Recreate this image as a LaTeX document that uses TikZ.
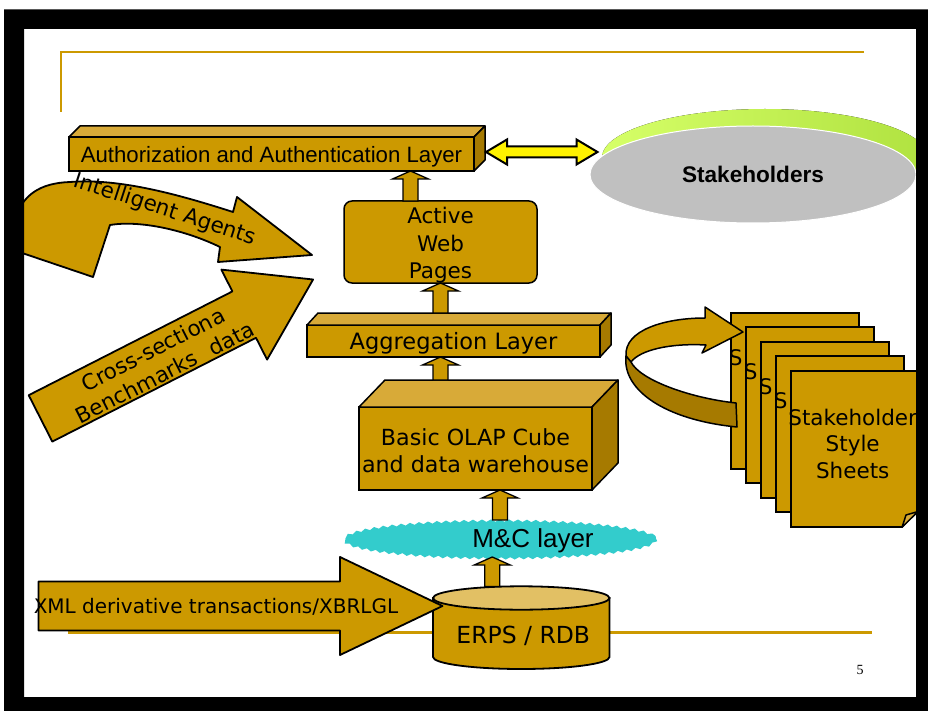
\documentclass[tikz,border=0pt]{standalone}
\usepackage{fontspec}
\setmainfont{DejaVu Sans}
\newfontfamily\arialfam{Liberation Sans}
\newfontfamily\seriffam{Liberation Serif}
\usetikzlibrary{calc,shapes.geometric,decorations.pathmorphing}

\definecolor{slabgold}{RGB}{204,153,0}
\definecolor{slabtop}{RGB}{216,170,56}
\definecolor{slabside}{RGB}{166,122,0}
\definecolor{lidgold}{RGB}{226,192,100}
\definecolor{mcteal}{RGB}{51,204,204}
\definecolor{limetop}{RGB}{214,255,104}
\definecolor{limeedge}{RGB}{176,226,64}
\definecolor{stonegray}{RGB}{192,192,192}

\newcommand\slabfaces[3]{%
  \draw[topface] (#1.north west) -- ++(#2,-#3) -- ($(#1.north east)+(#2,-#3)$) -- (#1.north east) -- cycle;
  \draw[sideface] (#1.north east) -- ++(#2,-#3) -- ($(#1.south east)+(#2,-#3)$) -- (#1.south east) -- cycle;}
\newcommand\liftarrow[2]{%
  \draw[lift] let \p1=(#1), \p2=(#2) in
    (\x1-7.5pt,\y1) -- (\x1-7.5pt,\y2-8pt) -- (\x1-18pt,\y2-8pt) -- (\x1,\y2)
    -- (\x1+18pt,\y2-8pt) -- (\x1+7.5pt,\y2-8pt) -- (\x1+7.5pt,\y1) -- cycle;}

\begin{document}
\begin{tikzpicture}[x=1pt,y=-1pt,
  face/.style={draw,line width=1.5pt,fill=slabgold,inner sep=0pt,outer sep=0pt},
  topface/.style={draw,line width=1.5pt,fill=slabtop,line join=round},
  sideface/.style={draw,line width=1.5pt,fill=slabside,line join=round},
  lift/.style={draw,line width=1.3pt,fill=slabgold,line join=miter},
  dblarrow/.style={draw,line width=2pt,fill=yellow,line join=miter},
  bigarrow/.style={draw,line width=1.8pt,fill=slabgold,line join=round},
  sheet/.style={draw,line width=2pt,fill=slabgold,minimum width=128,minimum height=156,inner sep=0pt},
  sheettext/.style={align=center,font=\fontsize{21.5}{26.7}\selectfont}]
\fill[white] (0,0) rectangle (928,711);
\useasboundingbox (0,0) rectangle (928,711);

\draw[slabgold,line width=1.5pt] (61,112) -- (61,52) -- (864,52);
\draw[slabgold,line width=3pt] (68,632) -- (872,632);

\fill[left color=limetop,right color=limeedge] (765,157.5) ellipse [x radius=163,y radius=48.5];
\node[ellipse,fill=stonegray,draw=white,line width=1pt,minimum width=326,minimum height=97,inner sep=0pt,text depth=0pt,
  font=\arialfam\bfseries\fontsize{22.6}{26}\selectfont] (stake) at (753,174.5) {Stakeholders};

\node[face,minimum width=405,minimum height=34,text depth=0pt,font=\arialfam\fontsize{22.2}{26}\selectfont] (auth) at (271.5,154) {Authorization and Authentication Layer};
\slabfaces{auth}{11}{11}

\coordinate (d1) at ($(auth.east)+(12,-2)$);
\coordinate (d2) at ($(d1 -| stake.west)+(8,0)$);
\draw[dblarrow] let \p1=(d1), \p2=(d2) in
  (\x1,\y1) -- (\x1+21pt,\y1+12.5pt) -- (\x1+21pt,\y1+5.5pt) -- (\x2-21pt,\y1+5.5pt) -- (\x2-21pt,\y1+12.5pt)
  -- (\x2,\y1) -- (\x2-21pt,\y1-12.5pt) -- (\x2-21pt,\y1-5.5pt) -- (\x1+21pt,\y1-5.5pt) -- (\x1+21pt,\y1-12.5pt) -- cycle;

\node[face,rounded corners=8pt,minimum width=193,minimum height=82] (awp) at (440.5,242) {};
\node[align=center,font=\fontsize{21.5}{27.5}\selectfont] (awplabel) at ($(awp.center)+(0,3.5)$) {Active\\Web\\Pages};

\node[face,minimum width=293,minimum height=32,text depth=0pt,font=\fontsize{22.5}{26}\selectfont] (agg) at (453.5,341) {Aggregation Layer};
\slabfaces{agg}{11}{12}

\node[face,minimum width=233,minimum height=83] (olap) at (475.5,448.5) {};
\node[align=center,font=\fontsize{22.2}{27.3}\selectfont] (olaplabel) at ($(olap.center)+(0,2)$) {Basic OLAP Cube\\and data warehouse};
\slabfaces{olap}{26}{27}

\node[ellipse,minimum width=312,minimum height=37,inner sep=0pt,outer sep=0pt] (mc) at (500,538.5) {};
\fill[mcteal,decorate,decoration={snake,segment length=9pt,amplitude=1.2pt}] (mc.center) ellipse [x radius=156,y radius=18.5];
\node[font=\arialfam\fontsize{26}{30}\selectfont] (mclabel) at (533,540.5) {M\&C layer};

\draw[line width=1.8pt,fill=slabgold] (433,598) -- (433,657) arc[start angle=180,end angle=0,x radius=88.25,y radius=12] -- (609.5,598) -- cycle;
\draw[line width=1.8pt,fill=lidgold] (521.25,598) ellipse [x radius=88.25,y radius=11.7];
\node[minimum width=176.5,minimum height=82.5,inner sep=0pt,outer sep=0pt] (erps) at (521.25,627.75) {};
\node[font=\fontsize{23.5}{28}\selectfont] (erpslabel) at ($(erps.center)+(2,8)$) {ERPS / RDB};

\coordinate (w1) at ($(awp.north)+(-30,0)$);
\coordinate (w2) at (w1 |- auth.south);
\liftarrow{w1}{w2}
\coordinate (g1) at ($(agg.north)+(-13,-12)$);
\coordinate (g2) at (g1 |- awp.south);
\liftarrow{g1}{g2}
\coordinate (o1) at ($(olap.north)+(-35,-27)$);
\coordinate (o2) at (o1 |- agg.south);
\liftarrow{o1}{o2}
\coordinate (m1) at (mc.north);
\coordinate (m2) at (m1 |- olap.south);
\liftarrow{m1}{m2}
\coordinate (e1) at ($(erps.north)+(-29,0)$);
\coordinate (e2) at (e1 |- mc.south);
\liftarrow{e1}{e2}

\coordinate (xtail) at (38.5,606);
\coordinate (xtip) at ($(xtail -| erps.west)+(9.5,0)$);
\draw[bigarrow] let \p1=(xtail), \p2=(xtip) in
  (\x1,\y1+24.5pt) -- (\x2-102.5pt,\y1+24.5pt) -- (\x2-102.5pt,\y1+49pt) -- (\x2,\y1)
  -- (\x2-102.5pt,\y1-49pt) -- (\x2-102.5pt,\y1-24.5pt) -- (\x1,\y1-24.5pt) -- cycle;
\node[font=\fontsize{20}{24}\selectfont] (xmltext) at (216,606.5) {XML derivative transactions/XBRLGL};

\foreach \i in {0,...,4}{
  \node[sheet] (p\i) at ({794.7+15*\i},{390.7+14.5*\i}) {};
  \ifnum\i<4
    \node[anchor=base west,inner sep=0pt,font=\fontsize{21.5}{26.7}\selectfont] (s\i) at ($(p\i.north west)+(-1,53.5)$) {S};
  \else
    \node[sheettext] (s\i) at ($(p\i.center)+(-2,-5)$) {Stakeholder\\Style\\Sheets};
  \fi
}
\fill[white] (901,529.5) -- (921,529.5) -- (921,509) -- cycle;
\draw[line width=1.5pt,fill=slabtop,line join=round] (902,527.3) -- (918,511.5) -- (906,515) -- cycle;

\draw[bigarrow,line width=1.5pt] (626,356) .. controls (624,330) and (665,318) .. (705,318) -- (705,307) -- (743,332)
  -- (702,353) -- (706,345) .. controls (670,343) and (640,350) .. (631,362) -- cycle;
\draw[bigarrow,fill=slabside,line width=1.5pt] (736,403) .. controls (690,398) and (640,380) .. (631,362) -- (626,356)
  .. controls (622,390) and (665,420) .. (737,427) -- cycle;

\draw[bigarrow] (15,250.6) -- (93,277) -- (110,225) .. controls (140,220) and (185,230) .. (220,247)
  -- (218,262) -- (312,255) -- (237,197) -- (233,212) .. controls (180,195) and (120,178) .. (70,182)
  .. controls (40,183) and (22,195) .. (15,220) -- cycle;
\node[rotate=-18,font=\fontsize{21.5}{24}\selectfont] (agents) at (165,210) {Intelligent Agents};

\draw[bigarrow] (28.7,395.2) -- (232.4,291.4) -- (221.3,269.6) -- (313.1,279.5) -- (267.1,359.6) -- (256,337.8) -- (52.3,441.6) -- cycle;
\node[rotate=27,align=center,font=\fontsize{21.5}{26}\selectfont] (bench) at (159,361) {Cross-sectiona\\Benchmarks\hspace{0.7em}data};

\fill[black,even odd rule] (4,9.5) rectangle (928,711) (24,29) rectangle (916,697);
\node[font=\seriffam\fontsize{14}{16}\selectfont] (pageno) at (860,670) {5};
\end{tikzpicture}
\end{document}
